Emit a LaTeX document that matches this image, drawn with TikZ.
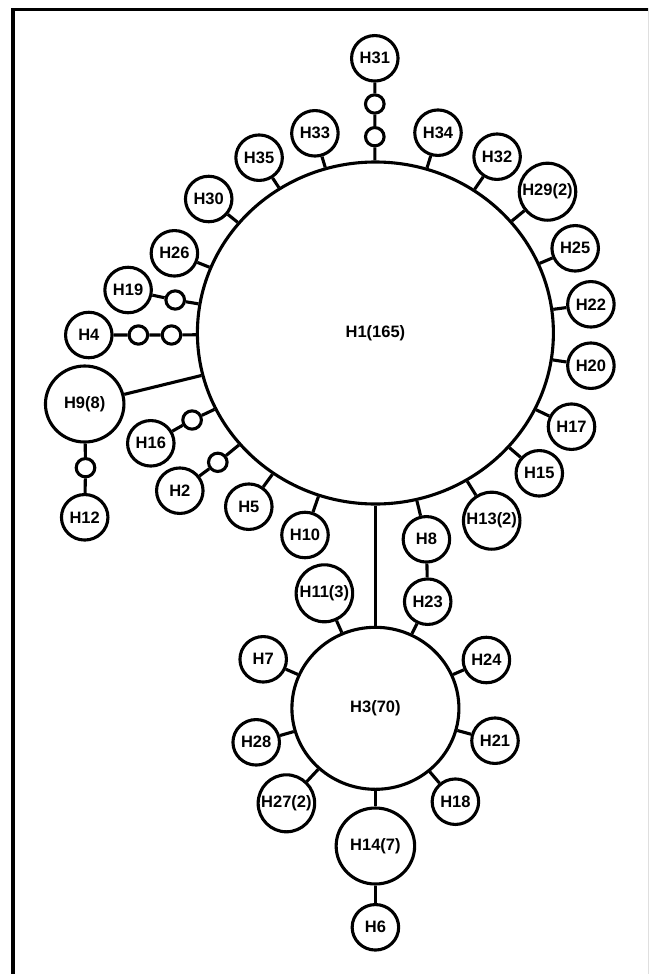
\documentclass[tikz,border=0pt]{standalone}
\usepackage{fontspec}
\setmainfont{Liberation Sans}
\usetikzlibrary{shapes.geometric}
\newcommand{\hlbl}[1]{\makebox[0pt][c]{#1}}
\begin{document}
\begin{tikzpicture}[x=1pt,y=-1pt,line width=3.1pt,
  base/.style={draw, ellipse, inner sep=0pt, fill=white, font=\fontsize{16.5}{19}\selectfont\bfseries},
  hap/.style={base, minimum width=46.5pt, minimum height=45.5pt},
  hapm/.style={base, minimum width=56.5pt, minimum height=57pt},
  hapl/.style={base, minimum width=78.5pt, minimum height=76pt},
  hapthree/.style={base, minimum width=167pt, minimum height=162pt},
  hapone/.style={base, minimum width=356pt, minimum height=342pt},
  mut/.style={draw, ellipse, inner sep=0pt, minimum width=18.6pt, minimum height=18.3pt, fill=white}]
\useasboundingbox (0,0) rectangle (648,974);
\clip (0,0) rectangle (648,974);
\draw[line width=3.4pt] (12.8,9.7) rectangle (649.2,1010);

% central haplotypes
\node[hapone] (H1) at (375.4,333) {\hlbl{H1(165)}};
\node[hapthree] (H3) at (375.4,708.3) {\hlbl{H3(70)}};

% around H1 (top)
\node[hap] (H31) at (374.8,58.3) {\hlbl{H31}};
\node[mut] (m31a) at (374.8,104) {};
\node[mut] (m31b) at (374.8,136.7) {};
\node[hap] (H33) at (314.9,133.3) {\hlbl{H33}};
\node[hap] (H35) at (259.1,157.7) {\hlbl{H35}};
\node[hap] (H30) at (208.7,199) {\hlbl{H30}};
\node[hap] (H26) at (174.4,253.3) {\hlbl{H26}};
\node[hap] (H19) at (128.1,290) {\hlbl{H19}};
\node[mut] (m19) at (175.2,300) {};
\node[hap] (H34) at (438,132.7) {\hlbl{H34}};
\node[hap] (H32) at (497.1,156.7) {\hlbl{H32}};
\node[hapm] (H29) at (547.5,191.7) {\hlbl{H29(2)}};
\node[hap] (H25) at (575.2,248.3) {\hlbl{H25}};
\node[hap] (H22) at (590.9,304.3) {\hlbl{H22}};

% around H1 (left / bottom)
\node[hap] (H4) at (88.8,335) {\hlbl{H4}};
\node[mut] (m4a) at (138.4,335) {};
\node[mut] (m4b) at (171.5,335) {};
\node[hapl] (H9) at (84.7,404) {\hlbl{H9(8)}};
\node[mut] (m12) at (85.5,467.7) {};
\node[hap] (H12) at (84.7,517.3) {\hlbl{H12}};
\node[hap] (H16) at (150.8,443.3) {\hlbl{H16}};
\node[mut] (m16) at (192.1,420) {};
\node[hap] (H2) at (179.8,490.7) {\hlbl{H2}};
\node[mut] (m2) at (217.8,462.3) {};
\node[hap] (H5) at (248.8,506.7) {\hlbl{H5}};
\node[hap] (H10) at (305,535) {\hlbl{H10}};
\node[hap] (H8) at (426.4,539.3) {\hlbl{H8}};
\node[hap] (H23) at (427.7,601.7) {\hlbl{H23}};
\node[hapm] (H13) at (491.7,520.7) {\hlbl{H13(2)}};
\node[hap] (H15) at (539.3,473.3) {\hlbl{H15}};
\node[hap] (H17) at (571.5,426.7) {\hlbl{H17}};
\node[hap] (H20) at (590.9,365.7) {\hlbl{H20}};

% around H3
\node[hapm] (H11) at (324.4,593.3) {\hlbl{H11(3)}};
\node[hap] (H7) at (263.2,659.3) {\hlbl{H7}};
\node[hap] (H24) at (486.4,660) {\hlbl{H24}};
\node[hap] (H28) at (256.2,742.3) {\hlbl{H28}};
\node[hap] (H21) at (495,740.7) {\hlbl{H21}};
\node[hapm] (H27) at (286.4,803.3) {\hlbl{H27(2)}};
\node[hap] (H18) at (455.4,801.7) {\hlbl{H18}};
\node[hapl] (H14) at (375.4,846) {\hlbl{H14(7)}};
\node[hap] (H6) at (375.4,927.3) {\hlbl{H6}};

% connectors
\begin{scope}[on background layer/.style={}]
\draw (H31) -- (m31a) -- (m31b) -- (H1);
\foreach \n in {H33,H35,H30,H26,H34,H32,H29,H25,H22,H20,H17,H15,H13,H10,H5,H9,H8}
  \draw (\n) -- (H1);
\draw (H19) -- (m19) -- (H1);
\draw (H4) -- (m4a) -- (m4b) -- (H1);
\draw (H9) -- (m12) -- (H12);
\draw (H16) -- (m16) -- (H1);
\draw (H2) -- (m2) -- (H1);
\draw (H1) -- (H3);
\draw (H8) -- (H23) -- (H3);
\foreach \n in {H11,H7,H24,H28,H21,H27,H18,H14}
  \draw (\n) -- (H3);
\draw (H14) -- (H6);
\end{scope}
\end{tikzpicture}
\end{document}
